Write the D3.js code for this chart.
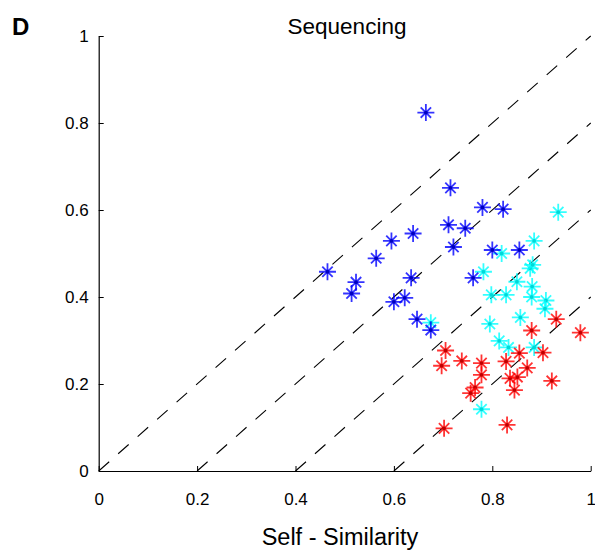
<!DOCTYPE html>
<html>
<head>
<meta charset="utf-8">
<script src="https://cdn.jsdelivr.net/npm/d3@7"></script>
<style>
  html, body { margin: 0; padding: 0; background: #fff; }
  svg { display: block; font-family: Arial, "Liberation Sans", sans-serif; }
</style>
</head>
<body>
<svg id="chart" width="595" height="552"></svg>
<script>
// ---- data ----
const xTicks = [0, 0.2, 0.4, 0.6, 0.8, 1];
const yTicks = [0, 0.2, 0.4, 0.6, 0.8, 1];
const xTickLabels = ["0", "0.2", "0.4", "0.6", "0.8", "1"];
const yTickLabels = ["0", "0.2", "0.4", "0.6", "0.8", "1"];
const diagonalOffsets = [0, 0.2, 0.4, 0.6];

const bluePoints = [
  [0.665, 0.824], [0.715, 0.651], [0.780, 0.606], [0.822, 0.602],
  [0.711, 0.566], [0.745, 0.558], [0.639, 0.546], [0.595, 0.529],
  [0.721, 0.515], [0.800, 0.508], [0.855, 0.508], [0.564, 0.489],
  [0.465, 0.458], [0.523, 0.434], [0.635, 0.444], [0.761, 0.444],
  [0.514, 0.408], [0.600, 0.389], [0.622, 0.398], [0.647, 0.349],
  [0.675, 0.324]
];
const cyanPoints = [
  [0.934, 0.595], [0.885, 0.529], [0.819, 0.500], [0.877, 0.466],
  [0.882, 0.474], [0.782, 0.458], [0.850, 0.435], [0.881, 0.424],
  [0.798, 0.405], [0.828, 0.405], [0.880, 0.400], [0.909, 0.392],
  [0.907, 0.373], [0.857, 0.353], [0.795, 0.338], [0.675, 0.341],
  [0.814, 0.299], [0.833, 0.284], [0.885, 0.284], [0.778, 0.142]
];
const redPoints = [
  [0.930, 0.349], [0.880, 0.323], [0.979, 0.318], [0.705, 0.277],
  [0.855, 0.271], [0.903, 0.272], [0.697, 0.242], [0.738, 0.253],
  [0.778, 0.248], [0.828, 0.252], [0.871, 0.237], [0.778, 0.221],
  [0.836, 0.213], [0.851, 0.216], [0.921, 0.207], [0.845, 0.186],
  [0.765, 0.192], [0.756, 0.179], [0.702, 0.098], [0.830, 0.106]
];

const series = [
  { name: "cyan", color: "#00ffff", dot: "#00d8d8", points: cyanPoints },
  { name: "blue", color: "#0000ff", dot: "#0000c0", points: bluePoints },
  { name: "red",  color: "#ff0000", dot: "#c00000", points: redPoints }
];

// ---- layout ----
const svg = d3.select("#chart");
const x = d3.scaleLinear().domain([0, 1]).range([98.7, 590.7]);
const y = d3.scaleLinear().domain([0, 1]).range([471, 36]);

// dashed diagonal lines y = x - c
const lineGen = d3.line().x(d => x(d[0])).y(d => y(d[1]));
svg.append("g").selectAll("path")
  .data(diagonalOffsets)
  .join("path")
  .attr("d", c => lineGen([[c, 0], [1, 1 - c]]))
  .attr("fill", "none")
  .attr("stroke", "#000")
  .attr("stroke-width", 1.1)
  .attr("stroke-dasharray", "14,12");

// axes
const xAxis = d3.axisBottom(x).tickValues(xTicks)
  .tickFormat((d, i) => xTickLabels[i]).tickSizeInner(-5).tickSizeOuter(0).tickPadding(14);
const yAxis = d3.axisLeft(y).tickValues(yTicks)
  .tickFormat((d, i) => yTickLabels[i]).tickSizeInner(-5).tickSizeOuter(0).tickPadding(14);

const gx = svg.append("g").attr("transform", `translate(0,${y(0)})`).call(xAxis);
const gy = svg.append("g").attr("transform", `translate(${x(0)},0)`).call(yAxis);
[gx, gy].forEach(g => {
  g.select(".domain").attr("stroke", "#000").attr("stroke-width", 1.2);
  g.selectAll(".tick line").attr("stroke", "#000").attr("stroke-width", 1);
  g.selectAll(".tick text").attr("font-size", 17).attr("fill", "#000")
    .attr("font-family", "Arial, 'Liberation Sans', sans-serif");
});
gx.selectAll(".tick text").attr("dy", "0.71em").attr("y", 22);
gy.selectAll(".tick text").attr("x", -10);

// markers (asterisk: + and shorter x)
const plusR = 8.5, crossR = 5.2;
series.forEach(s => {
  const g = svg.append("g").attr("class", "series-" + s.name);
  const m = g.selectAll("g").data(s.points).join("g")
    .attr("transform", d => `translate(${x(d[0])},${y(d[1])})`);
  m.append("path")
    .attr("d", `M${-plusR},0H${plusR}M0,${-plusR}V${plusR}` +
               `M${-crossR},${-crossR}L${crossR},${crossR}M${-crossR},${crossR}L${crossR},${-crossR}`)
    .attr("stroke", s.color)
    .attr("stroke-width", 1.8)
    .attr("stroke-opacity", 0.8)
    .attr("fill", "none");
  m.append("circle").attr("r", 1.9).attr("fill", s.dot);
});

// texts
svg.append("text").attr("x", 347).attr("y", 34)
  .attr("text-anchor", "middle").attr("font-size", 22.5).attr("fill", "#000")
  .text("Sequencing");
svg.append("text").attr("x", 340).attr("y", 545)
  .attr("text-anchor", "middle").attr("font-size", 23.5).attr("fill", "#000")
  .text("Self - Similarity");
svg.append("text").attr("x", 12).attr("y", 35)
  .attr("font-size", 24).attr("font-weight", "bold").attr("fill", "#000")
  .text("D");
</script>
</body>
</html>
